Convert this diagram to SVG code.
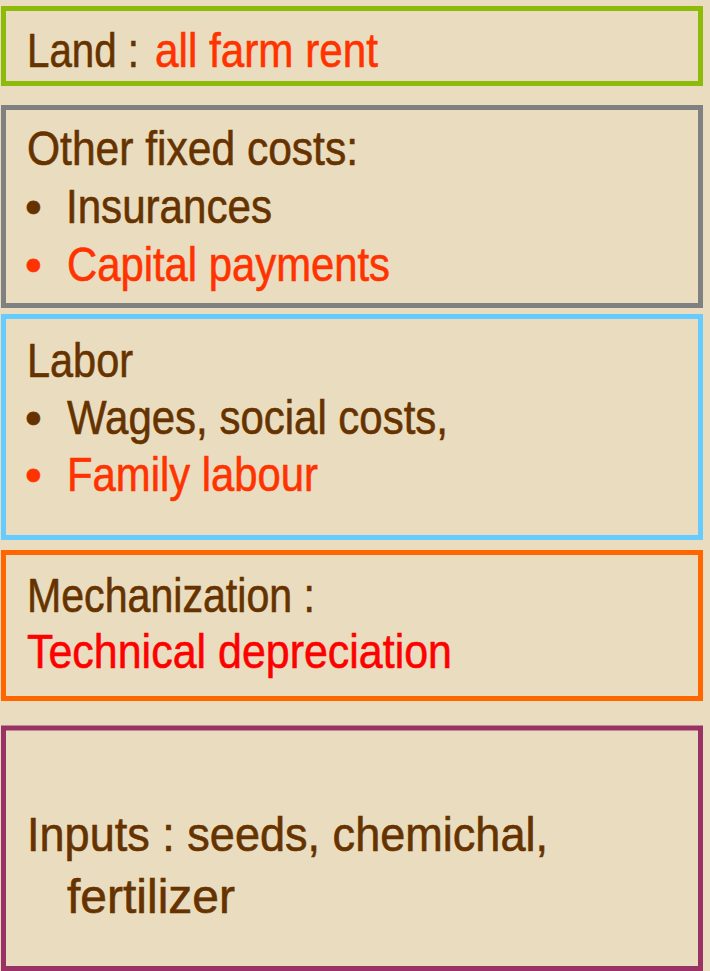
<svg xmlns="http://www.w3.org/2000/svg" width="710" height="971" viewBox="0 0 710 971">
<style>
  .box { fill: #EADDBF; stroke-width: 5; }
  text { font-family: "Liberation Sans Narrow", "Arial Narrow", "Liberation Sans", Arial, sans-serif; font-size: 48px; fill: #663300; stroke: #663300; stroke-width: 0.6px; }
  .red { fill: #FF3300; stroke: #FF3300; }
  .pure { fill: #FF0000; stroke: #FF0000; }
</style>
<rect x="0" y="0" width="710" height="971" fill="#EADDBF"/>
<g id="land">
  <rect class="box" x="3.5" y="8.5" width="697" height="75" stroke="#8CBB0A"/>
  <text x="27" y="67" textLength="112" lengthAdjust="spacingAndGlyphs">Land :</text>
  <text x="155" y="67" class="red" textLength="223" lengthAdjust="spacingAndGlyphs">all farm rent</text>
</g>
<g id="other-fixed-costs">
  <rect class="box" x="3.5" y="107.5" width="697" height="198" stroke="#808080"/>
  <text x="27" y="165" textLength="331" lengthAdjust="spacingAndGlyphs">Other fixed costs:</text>
  <text x="25" y="223">•</text>
  <text x="66" y="223" textLength="206" lengthAdjust="spacingAndGlyphs">Insurances</text>
  <text x="25" y="281" class="red">•</text>
  <text x="67" y="281" class="red" textLength="323" lengthAdjust="spacingAndGlyphs">Capital payments</text>
</g>
<g id="labor">
  <rect class="box" x="3.5" y="316.5" width="697" height="221" stroke="#66CCFF"/>
  <text x="27" y="377" textLength="106" lengthAdjust="spacingAndGlyphs">Labor</text>
  <text x="25" y="434">•</text>
  <text x="67" y="434" textLength="381" lengthAdjust="spacingAndGlyphs">Wages, social costs,</text>
  <text x="25" y="491" class="red">•</text>
  <text x="67" y="491" class="red" textLength="251" lengthAdjust="spacingAndGlyphs">Family labour</text>
</g>
<g id="mechanization">
  <rect class="box" x="3.5" y="552.5" width="697" height="146" stroke="#FF6600"/>
  <text x="27" y="612" textLength="288" lengthAdjust="spacingAndGlyphs">Mechanization :</text>
  <text x="27" y="668" class="pure" textLength="425" lengthAdjust="spacingAndGlyphs">Technical depreciation</text>
</g>
<g id="inputs">
  <rect class="box" x="3.5" y="728" width="697" height="240.5" stroke="#993366"/>
  <text x="27" y="851" textLength="521" lengthAdjust="spacingAndGlyphs">Inputs : seeds, chemichal,</text>
  <text x="67" y="913" textLength="168" lengthAdjust="spacingAndGlyphs">fertilizer</text>
</g>
<g id="connectors"></g>
</svg>
